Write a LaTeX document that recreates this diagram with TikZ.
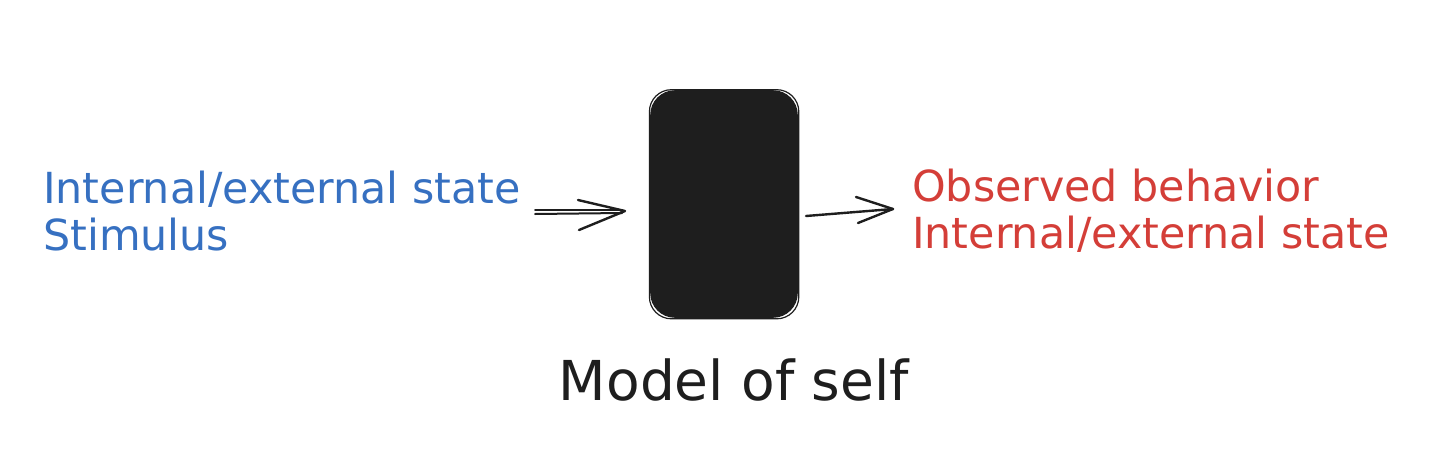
\documentclass[tikz,border=0pt]{standalone}
\usepackage{fontspec}
\setmainfont{DejaVu Sans}
\definecolor{inblue}{RGB}{54,112,193}
\definecolor{outred}{RGB}{212,62,56}
\definecolor{ink}{RGB}{30,30,30}
\tikzset{
  lbl/.style={anchor=base west, inner sep=0pt, align=left, font=\fontsize{42.8}{46.5}\selectfont},
  sk/.style={draw=ink, line width=2.4pt, line cap=round, line join=round},
}
\begin{document}
\begin{tikzpicture}[x=1pt,y=-1pt]
\useasboundingbox[fill=white] (0,0) rectangle (1446,474);
% box
\node (box) [draw=ink, fill=ink, line width=1.6pt, rounded corners=24pt, minimum width=146pt, minimum height=226pt, inner sep=0pt] at (724,204) {};
\draw[ink, line width=1.2pt, rounded corners=22pt] ([xshift=-0.8pt,yshift=0.5pt]box.north west) rectangle ([xshift=1pt,yshift=-1pt]box.south east);
% texts
\node (in) [lbl, text=inblue] at (43,250) {Internal/external state\\Stimulus};
\node (out) [lbl, text=outred] at (912,248) {Observed behavior\\Internal/external state};
\node (cap) [anchor=base, inner sep=0pt, font=\fontsize{55}{60}\selectfont, text=ink] at (734,400) {Model of self};
% left double arrow
\coordinate (a1s) at (535,210); \coordinate (a1e) at (622,210);
\coordinate (a2s) at (535,214); \coordinate (a2e) at (622,213);
\coordinate (at) at (625,211);
\coordinate (ah1) at (578,200); \coordinate (ah2) at (579,230);
\draw[sk, line width=2pt] (a1s) -- (a1e);
\draw[sk, line width=2pt] (a2s) -- (a2e);
\draw[sk] (ah1) -- (at) -- (ah2);
% right arrow
\coordinate (bs) at (806,216); \coordinate (bt) at (893,209);
\coordinate (bh1) at (856,197); \coordinate (bh2) at (858,223);
\draw[sk] (bs) -- (bt);
\draw[sk] (bh1) -- (bt) -- (bh2);
\end{tikzpicture}
\end{document}
